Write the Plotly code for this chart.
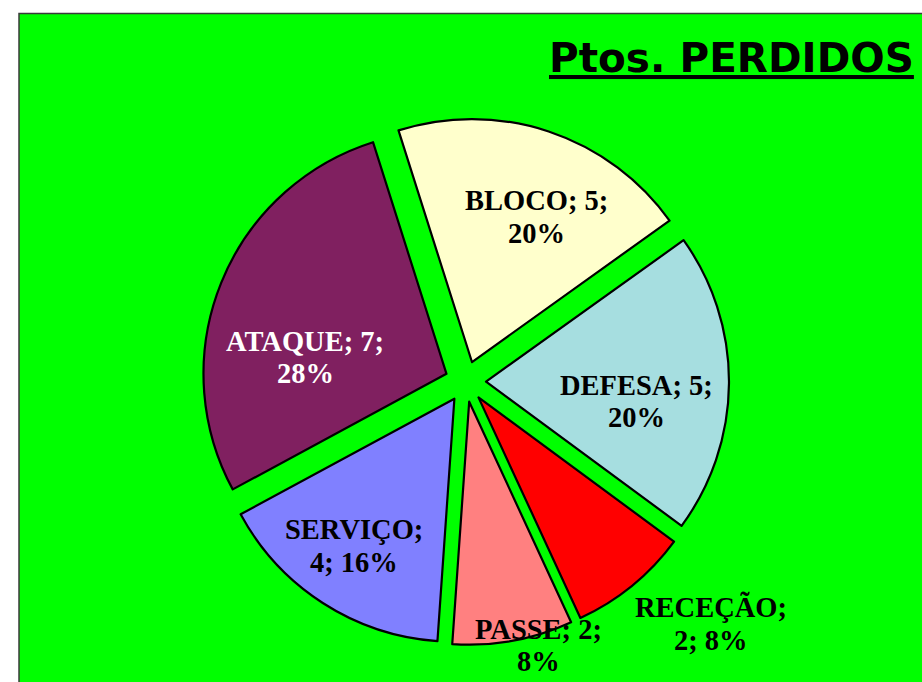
import plotly.graph_objects as go

# ---- data -------------------------------------------------------------
categories = ["BLOCO", "DEFESA", "RECEÇÃO", "PASSE", "SERVIÇO", "ATAQUE"]
points = [5, 5, 2, 2, 4, 7]
title_text = "Ptos. PERDIDOS"

# ---- styling ----------------------------------------------------------
W, H = 922, 682
slice_colors = ["#FFFFCC", "#A6DEE0", "#FF0000", "#FF8080", "#8080FF", "#802060"]
label_colors = ["black", "black", "black", "black", "black", "white"]
# how many "; "-separated parts go on the first line of each label
wrap_after = [2, 2, 1, 2, 1, 2]
# label line centres in pixels: (x, y of line 1, y of line 2)
label_pos = [
    (536, 201, 234),
    (636, 385, 417),
    (711, 607, 640),
    (538, 629, 661),
    (354, 529, 562),
    (305, 341, 374),
]
label_font = dict(family="Liberation Serif, Times New Roman, serif", size=28.5,
                  weight="bold")


def px(x):
    return x / W


def py(y):
    return 1 - y / H


total = sum(points)
pull = 0.0844

fig = go.Figure(
    go.Pie(
        labels=categories,
        values=points,
        sort=False,
        direction="clockwise",
        rotation=-17.6,
        pull=[pull] * len(points),
        marker=dict(colors=slice_colors, line=dict(color="black", width=2.2)),
        textinfo="none",
        hoverinfo="label+value+percent",
        showlegend=False,
        domain=dict(x=[px(465.5 - 263.5), px(465.5 + 263.5)],
                    y=[py(381.5 + 263.5), py(381.5 - 263.5)]),
    )
)

annotations = []
for cat, val, col, k, (lx, y1, y2) in zip(categories, points, label_colors,
                                           wrap_after, label_pos):
    parts = [cat, str(val), f"{round(100 * val / total)}%"]
    line1 = "; ".join(parts[:k]) + ";"
    line2 = "; ".join(parts[k:])
    for txt, ly in ((line1, y1), (line2, y2)):
        annotations.append(dict(
            text=txt, x=px(lx), y=py(ly), xref="paper", yref="paper",
            xanchor="center", yanchor="middle", showarrow=False,
            font=dict(color=col, **label_font),
        ))

annotations.append(dict(
    text=title_text, x=px(547), y=py(58), xref="paper", yref="paper",
    xanchor="left", yanchor="middle", showarrow=False,
    font=dict(family="DejaVu Sans, Arial, sans-serif", size=40.5, weight="bold",
              color="black", lineposition="under"),
))

fig.update_layout(
    width=W,
    height=H,
    margin=dict(l=0, r=0, t=0, b=0),
    paper_bgcolor="white",
    plot_bgcolor="white",
    annotations=annotations,
    shapes=[dict(
        type="rect", xref="paper", yref="paper", layer="below",
        x0=px(19), x1=1.05, y0=-0.05, y1=py(13.5),
        fillcolor="#00FF00", line=dict(color="#3A3A3A", width=1.5),
    )],
)

fig.write_html("out.html")
